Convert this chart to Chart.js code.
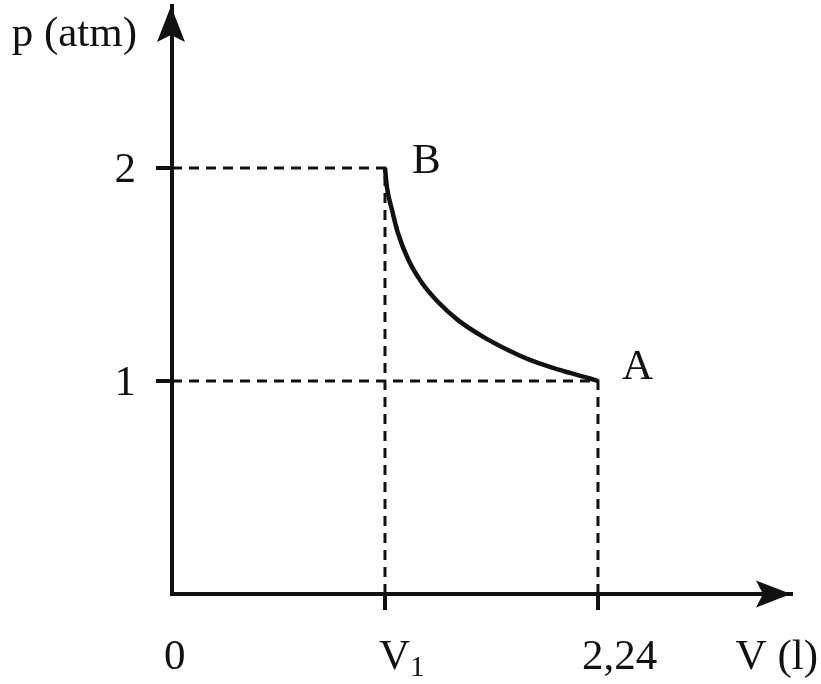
<!DOCTYPE html>
<html>
<head>
<meta charset="utf-8">
<script src="https://cdn.jsdelivr.net/npm/chart.js@4.4.0/dist/chart.umd.min.js"></script>
<style>
  html, body { margin: 0; padding: 0; background: #ffffff; }
  #wrap { width: 821px; height: 684px; }
</style>
</head>
<body>
<div id="wrap"><canvas id="c" width="821" height="684"></canvas></div>
<script>
// ---- data ----
const curveV = [1.120, 1.130, 1.157, 1.188, 1.241, 1.315, 1.399, 1.504, 1.630, 1.777, 1.882, 1.987, 2.093, 2.198, 2.240];
const curveP = [2.000, 1.911, 1.803, 1.695, 1.573, 1.460, 1.371, 1.286, 1.211, 1.141, 1.099, 1.066, 1.038, 1.012, 1.000];
const stateV = [1.12, 2.24];
const stateP = [2, 1];
const stateLabels = ['B', 'A'];
const xTickValues = [0, 1.12, 2.24];
const xTickLabels = ['0', 'V', '2,24'];
const xTickSubs = ['', '1', ''];
const yTickValues = [1, 2];
const yTickLabels = ['1', '2'];
const xTitle = 'V (l)';
const yTitle = 'p (atm)';
const xMax = 3.255;
const yMax = 2.761;

const INK = '#111111';
const FONT = '"Liberation Serif", "Times New Roman", serif';

const datasets = [];
stateV.forEach((v, i) => {
  datasets.push({
    data: [{x: 0, y: stateP[i]}, {x: v, y: stateP[i]}, {x: v, y: 0}],
    showLine: true, borderColor: INK, borderWidth: 3, borderDash: [10, 7],
    pointRadius: 0, fill: false, tension: 0
  });
});
datasets.push({
  data: curveV.map((v, i) => ({x: v, y: curveP[i]})),
  showLine: true, borderColor: INK, borderWidth: 4.5,
  cubicInterpolationMode: 'monotone', pointRadius: 0, fill: false
});

const decor = {
  id: 'decor',
  afterDraw(chart) {
    const ctx = chart.ctx;
    const xs = chart.scales.x, ys = chart.scales.y;
    const ox = xs.getPixelForValue(0) - 1, oy = ys.getPixelForValue(0);
    ctx.save();
    ctx.fillStyle = INK;
    // x arrow
    const tx = xs.getPixelForValue(xMax);
    ctx.beginPath();
    ctx.moveTo(tx, oy);
    ctx.lineTo(tx - 35, oy - 13.5);
    ctx.lineTo(tx - 28, oy);
    ctx.lineTo(tx - 35, oy + 13.5);
    ctx.closePath();
    ctx.fill();
    // y arrow
    const ty = ys.getPixelForValue(yMax);
    ctx.beginPath();
    ctx.moveTo(ox, ty);
    ctx.lineTo(ox - 14, ty + 36);
    ctx.lineTo(ox, ty + 29);
    ctx.lineTo(ox + 14, ty + 36);
    ctx.closePath();
    ctx.fill();

    const F = '43px ' + FONT;
    ctx.font = F;
    ctx.textBaseline = 'alphabetic';
    // y tick labels
    ctx.textAlign = 'right';
    yTickValues.forEach((v, i) => {
      ctx.fillText(yTickLabels[i], ox - 35, ys.getPixelForValue(v) + 14);
    });
    // x tick labels
    const dx = [-8, -6, -16];
    ctx.textAlign = 'left';
    const baseX = oy + 75;
    xTickValues.forEach((v, i) => {
      const px = xs.getPixelForValue(v) + dx[i];
      ctx.font = F;
      ctx.fillText(xTickLabels[i], px, baseX);
      if (xTickSubs[i]) {
        const w = ctx.measureText(xTickLabels[i]).width;
        ctx.font = '29px ' + FONT;
        ctx.fillText(xTickSubs[i], px + w, baseX + 7);
      }
    });
    ctx.font = F;
    ctx.textAlign = 'right';
    ctx.fillText(xTitle, tx + 27, baseX);
    ctx.fillText(yTitle, ox - 34, 46);
    // state labels
    ctx.textAlign = 'left';
    const off = [[27, 5], [24, -2]];
    stateLabels.forEach((t, i) => {
      ctx.fillText(t, xs.getPixelForValue(stateV[i]) + off[i][0], ys.getPixelForValue(stateP[i]) + off[i][1]);
    });
    ctx.restore();
  }
};

new Chart(document.getElementById('c'), {
  type: 'scatter',
  data: { datasets },
  options: {
    responsive: false,
    animation: false,
    events: [],
    layout: { padding: { top: 6, right: 30, left: 0, bottom: 0 } },
    plugins: { legend: { display: false }, tooltip: { enabled: false } },
    scales: {
      x: {
        type: 'linear', position: 'bottom', min: 0, max: xMax,
        border: { display: true, color: INK, width: 4 },
        grid: { drawOnChartArea: false, drawTicks: true, tickLength: 16, lineWidth: 4, color: INK },
        ticks: { display: false },
        afterBuildTicks: s => { s.ticks = xTickValues.filter(v => v > 0).map(v => ({value: v})); },
        afterFit: s => { s.height = 90; }
      },
      y: {
        type: 'linear', position: 'left', min: 0, max: yMax,
        border: { display: true, color: INK, width: 4 },
        grid: { drawOnChartArea: false, drawTicks: true, tickLength: 16, lineWidth: 4, color: INK },
        ticks: { display: false },
        afterBuildTicks: s => { s.ticks = yTickValues.map(v => ({value: v})); },
        afterFit: s => { s.width = 172; }
      }
    }
  },
  plugins: [decor]
});
</script>
</body>
</html>
